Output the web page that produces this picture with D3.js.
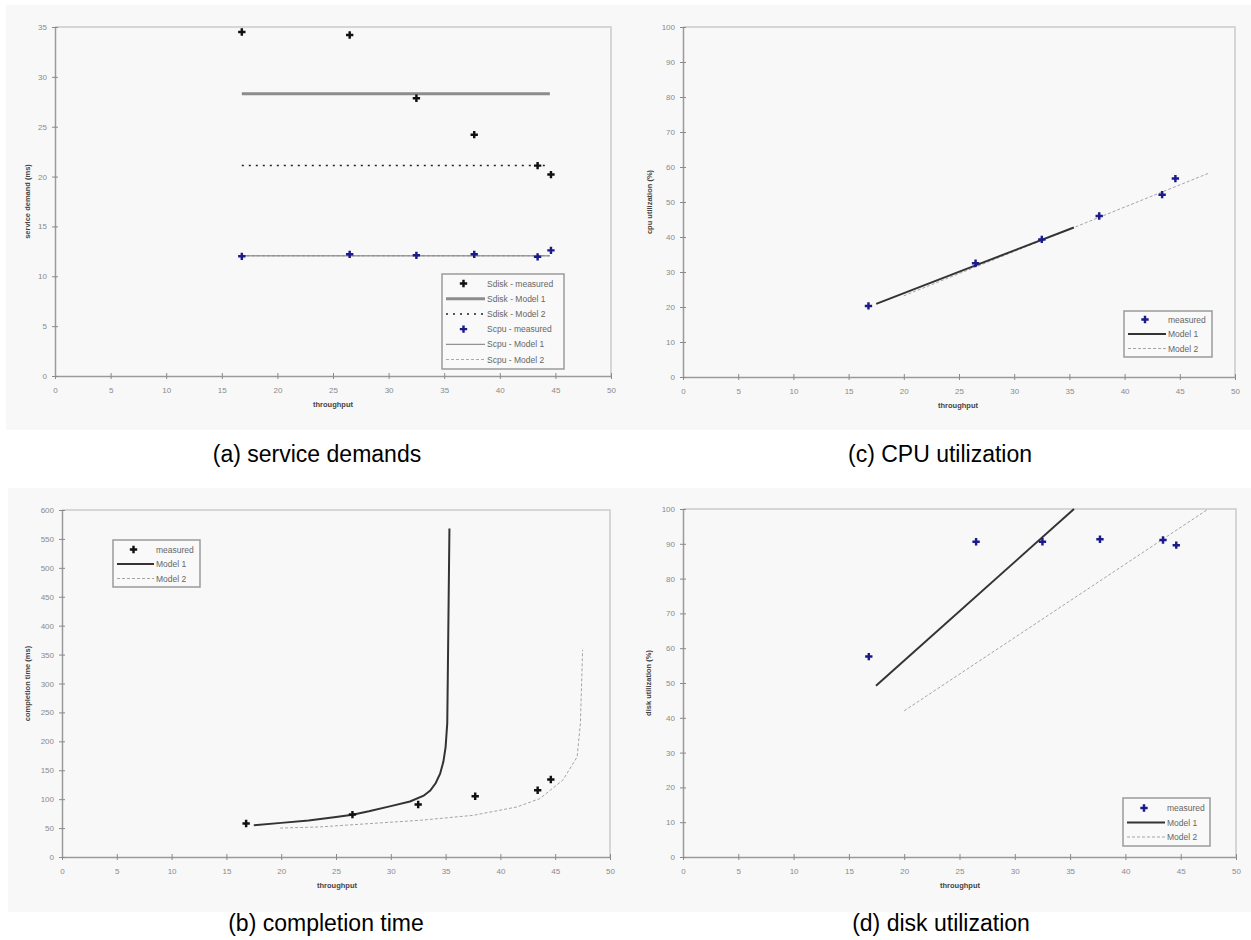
<!DOCTYPE html>
<html>
<head>
<meta charset="utf-8">
<script src="https://cdn.jsdelivr.net/npm/d3@7"></script>
<style>
  body { margin: 0; background: #fff; }
  svg { display: block; font-family: Arial, "Liberation Sans", sans-serif; }
</style>
</head>
<body>
<div id="chart"></div>
<script>
// ---- data ----
const throughput = [16.8, 26.5, 32.5, 37.7, 43.4, 44.6];

// (a) service demands (ms)
const sdiskMeasured = [34.5, 34.2, 27.85, 24.2, 21.1, 20.2];
const scpuMeasured = [12.0, 12.2, 12.1, 12.2, 11.95, 12.6];
const sdiskModel1 = [[16.8, 28.3], [44.5, 28.3]];
const sdiskModel2 = [[16.8, 21.1], [44.5, 21.1]];
const scpuModel1 = [[16.8, 12.05], [44.5, 12.05]];
const scpuModel2 = [[16.8, 12.05], [44.5, 12.05]];

// (c) cpu utilization (%)
const cpuMeasured = [20.3, 32.5, 39.3, 46.0, 52.1, 56.7];
const cpuModel1 = [[17.5, 20.9], [26.5, 31.9], [35.4, 42.7]];
const cpuModel2 = [[20, 23.2], [35.4, 42.7], [47.6, 58.2]];

// (b) completion time (ms)
const timeMeasured = [58, 73.4, 90.7, 105, 115.4, 134];
const timeModel1 = [[17.5, 55], [20, 59], [22.5, 63], [25, 69], [26.5, 73], [28, 79], [30, 88],
  [31.75, 96], [33, 106], [33.6, 115], [34.1, 128], [34.5, 144], [34.8, 165], [35.0, 190],
  [35.15, 231], [35.2, 311], [35.35, 568]];
const timeModel2 = [[19.9, 50], [23.5, 52], [28.1, 57.8], [32.7, 63.5], [37.5, 72], [41.5, 86.5],
  [43.6, 101], [45.7, 133], [47.0, 173], [47.3, 231], [47.5, 358]];

// (d) disk utilization (%)
const diskMeasured = [57.6, 90.6, 90.6, 91.3, 91.1, 89.6];
const diskModel1 = [[17.45, 49.2], [35.35, 100]];
const diskModel2 = [[20, 42], [47.5, 100]];

// tick labels
const xTicks = [0, 5, 10, 15, 20, 25, 30, 35, 40, 45, 50];
const sdTicks = [0, 5, 10, 15, 20, 25, 30, 35];
const utilTicks = [0, 10, 20, 30, 40, 50, 60, 70, 80, 90, 100];
const timeTicks = [0, 50, 100, 150, 200, 250, 300, 350, 400, 450, 500, 550, 600];

const captions = ["(a) service demands", "(c) CPU utilization", "(b) completion time", "(d) disk utilization"];

// ---- drawing ----
const svg = d3.select("#chart").append("svg")
    .attr("width", 1251)
    .attr("height", 940);

svg.append("rect").attr("width", 1251).attr("height", 940).attr("fill", "#fff");
// panel backgrounds, one per row
svg.append("rect").attr("x", 6).attr("y", 5).attr("width", 1245).attr("height", 425).attr("fill", "#f8f8f8");
svg.append("rect").attr("x", 8).attr("y", 488).attr("width", 1243).attr("height", 424).attr("fill", "#f8f8f8");

const BLUE = "#1a1a8c";

const pts = arr => throughput.map((t, i) => [t, arr[i]]);

function drawPanel(cfg) {
    const g = svg.append("g");
    const x = d3.scaleLinear().domain([0, 50]).range([cfg.left, cfg.right]);
    const y = d3.scaleLinear().domain([cfg.yTicks[0], cfg.yTicks[cfg.yTicks.length - 1]]).range([cfg.bottom, cfg.top]);

    // light frame on top and right
    g.append("path")
        .attr("d", `M${cfg.left},${cfg.top}H${cfg.right}V${cfg.bottom}`)
        .attr("fill", "none")
        .attr("stroke", "#cacaca")
        .attr("stroke-width", 1.5);

    const ax = g.append("g")
        .attr("transform", `translate(0,${cfg.bottom})`)
        .call(d3.axisBottom(x).tickValues(xTicks).tickSize(3).tickSizeOuter(0).tickPadding(8));
    const ay = g.append("g")
        .attr("transform", `translate(${cfg.left},0)`)
        .call(d3.axisLeft(y).tickValues(cfg.yTicks).tickSize(3).tickSizeOuter(0).tickPadding(5));

    [ax, ay].forEach(a => {
        a.select(".domain").attr("stroke", "#9a9a9a").attr("stroke-width", 1.5);
        a.selectAll(".tick line").attr("stroke", "#8a8a8a");
        a.selectAll(".tick text").attr("fill", "#8a8a8a").style("font-size", "8px");
    });
    // ticks cross the axis
    ax.selectAll(".tick line").attr("y1", -3);
    ay.selectAll(".tick line").attr("x1", 3);

    // axis titles
    g.append("text")
        .attr("x", cfg.xTitleX)
        .attr("y", cfg.bottom + 31)
        .attr("text-anchor", "middle")
        .attr("fill", "#444")
        .style("font-size", "7.5px")
        .style("font-weight", "bold")
        .text("throughput");
    g.append("text")
        .attr("transform", `translate(${cfg.yTitleX},${(cfg.top + cfg.bottom) / 2}) rotate(-90)`)
        .attr("text-anchor", "middle")
        .attr("fill", "#444")
        .style("font-size", "7.5px")
        .style("font-weight", "bold")
        .text(cfg.yTitle);

    const clipId = "clip" + cfg.id;
    g.append("clipPath").attr("id", clipId)
        .append("rect")
        .attr("x", cfg.left).attr("y", cfg.top - 1)
        .attr("width", cfg.right - cfg.left).attr("height", cfg.bottom - cfg.top + 1);

    const line = d3.line().x(d => x(d[0])).y(d => y(d[1]));
    const plot = g.append("g").attr("clip-path", `url(#${clipId})`);

    // lines: later series underneath earlier ones
    cfg.series.filter(s => s.type === "line").reverse().forEach(s => {
        plot.append("path")
            .datum(s.data)
            .attr("d", line)
            .attr("fill", "none")
            .attr("stroke", s.color)
            .attr("stroke-width", s.width)
            .attr("stroke-dasharray", s.dash || null);
    });

    cfg.series.filter(s => s.type === "points").forEach(s => {
        g.selectAll(null)
            .data(s.data)
            .enter().append("path")
            .attr("transform", d => `translate(${x(d[0])},${y(d[1])})`)
            .attr("d", d3.symbol(d3.symbolCross, 30))
            .attr("fill", s.color);
    });

    // legend
    const L = cfg.legend;
    const lg = g.append("g");
    lg.append("rect")
        .attr("x", L.x).attr("y", L.y)
        .attr("width", L.w).attr("height", L.h)
        .attr("fill", "#f9f9f9")
        .attr("stroke", "#9a9a9a")
        .attr("stroke-width", 1.5);
    cfg.series.forEach((s, i) => {
        const cy = L.y + L.rowTop + i * L.row;
        if (s.type === "points") {
            lg.append("path")
                .attr("transform", `translate(${L.x + L.sym / 2},${cy})`)
                .attr("d", d3.symbol(d3.symbolCross, 30))
                .attr("fill", s.color);
        } else {
            lg.append("line")
                .attr("x1", L.x + 4).attr("x2", L.x + L.sym)
                .attr("y1", cy).attr("y2", cy)
                .attr("stroke", s.color)
                .attr("stroke-width", s.width)
                .attr("stroke-dasharray", s.dash || null);
        }
        lg.append("text")
            .attr("x", L.x + L.sym + 2)
            .attr("y", cy + 3)
            .attr("fill", "#666")
            .style("font-size", "8.5px")
            .text(s.label);
    });
}

const model1 = { type: "line", color: "#333", width: 2 };
const model2 = { type: "line", color: "#a5a5a5", width: 1, dash: "3,2" };

drawPanel({
    id: "a", left: 55, right: 611, top: 27, bottom: 376,
    yTicks: sdTicks, yTitle: "service demand (ms)", yTitleX: 30, xTitleX: 333,
    series: [
        { type: "points", data: pts(sdiskMeasured), color: "#111", label: "Sdisk - measured" },
        { type: "line", data: sdiskModel1, color: "#8c8c8c", width: 3, label: "Sdisk - Model 1" },
        { type: "line", data: sdiskModel2, color: "#222", width: 1.5, dash: "2,5", label: "Sdisk - Model 2" },
        { type: "points", data: pts(scpuMeasured), color: BLUE, label: "Scpu - measured" },
        { type: "line", data: scpuModel1, color: "#777", width: 1, label: "Scpu - Model 1" },
        { type: "line", data: scpuModel2, color: "#aaa", width: 1, dash: "3,2", label: "Scpu - Model 2" }
    ],
    legend: { x: 442, y: 274, w: 122, h: 95, rowTop: 9.5, row: 15.2, sym: 43 }
});

drawPanel({
    id: "c", left: 683, right: 1235, top: 27, bottom: 377,
    yTicks: utilTicks, yTitle: "cpu utilization (%)", yTitleX: 652, xTitleX: 958,
    series: [
        { type: "points", data: pts(cpuMeasured), color: BLUE, label: "measured" },
        Object.assign({ data: cpuModel1, label: "Model 1" }, model1),
        Object.assign({ data: cpuModel2, label: "Model 2" }, model2)
    ],
    legend: { x: 1124, y: 311, w: 88, h: 46, rowTop: 8.5, row: 14.5, sym: 42 }
});

drawPanel({
    id: "b", left: 62, right: 610, top: 510, bottom: 857,
    yTicks: timeTicks, yTitle: "completion time (ms)", yTitleX: 30, xTitleX: 337,
    series: [
        { type: "points", data: pts(timeMeasured), color: "#111", label: "measured" },
        Object.assign({ data: timeModel1, label: "Model 1" }, model1),
        Object.assign({ data: timeModel2, label: "Model 2" }, model2)
    ],
    legend: { x: 113, y: 540, w: 87, h: 47, rowTop: 9.5, row: 14.5, sym: 41 }
});

drawPanel({
    id: "d", left: 683, right: 1236, top: 509, bottom: 857,
    yTicks: utilTicks, yTitle: "disk utilization (%)", yTitleX: 651, xTitleX: 960,
    series: [
        { type: "points", data: pts(diskMeasured), color: BLUE, label: "measured" },
        Object.assign({ data: diskModel1, label: "Model 1" }, model1),
        Object.assign({ data: diskModel2, label: "Model 2" }, model2)
    ],
    legend: { x: 1123, y: 798, w: 87, h: 48, rowTop: 10, row: 14.5, sym: 42 }
});

// captions under each panel
const capPos = [[317, 462], [940, 462], [326, 931], [941, 931]];
svg.selectAll(".caption")
    .data(captions)
    .enter().append("text")
    .attr("class", "caption")
    .attr("x", (d, i) => capPos[i][0])
    .attr("y", (d, i) => capPos[i][1])
    .attr("text-anchor", "middle")
    .attr("fill", "#000")
    .style("font-size", "23px")
    .text(d => d);
</script>
</body>
</html>
